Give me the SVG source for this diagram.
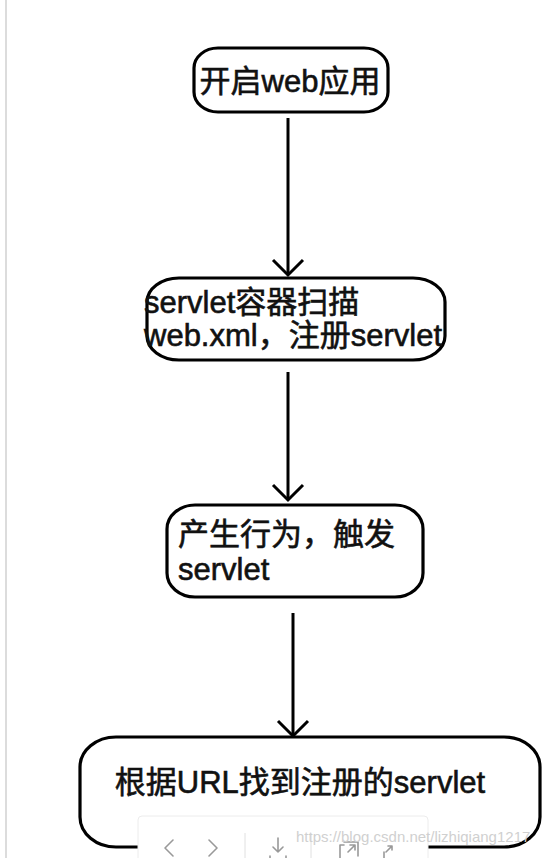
<svg xmlns="http://www.w3.org/2000/svg" width="554" height="858" viewBox="0 0 554 858">
<style>
.box{fill:#fff;stroke:#000;stroke-width:3.2}
.lbl{font-family:"Liberation Sans","Noto Sans CJK SC",sans-serif;font-size:31px;fill:#111;stroke:#111;stroke-width:0.6}
.edge{stroke:#000;stroke-width:3;fill:none}
.icon{stroke:#999;stroke-width:1.6;fill:none;stroke-linecap:round;stroke-linejoin:round}
</style>
<defs>
<marker id="vhead" markerUnits="userSpaceOnUse" markerWidth="40" markerHeight="40" refX="20" refY="20" orient="auto">
<path d="M5,5 L20,20 L5,35" stroke="#000" stroke-width="3" fill="none"/>
</marker>
</defs>
<rect width="554" height="858" fill="#fff"/>
<rect x="5" y="0" width="2" height="858" fill="#dcdcdc"/>

<g id="connectors">
<line class="edge" x1="288" y1="118" x2="288" y2="275" marker-end="url(#vhead)"/>
<line class="edge" x1="288" y1="372" x2="288" y2="500" marker-end="url(#vhead)"/>
<line class="edge" x1="293" y1="613" x2="293" y2="736" marker-end="url(#vhead)"/>
</g>

<g id="n1">
<rect class="box" x="194" y="48" width="194" height="64" rx="24" ry="20"/>
<text class="lbl" x="290" y="92" text-anchor="middle" font-size="31" stroke-width="1">开启web应用</text>
</g>

<g id="n2">
<rect class="box" x="147" y="278" width="298" height="82" rx="32" ry="24"/>
<text class="lbl" x="144" y="313">servlet容器扫描</text>
<text class="lbl" x="144" y="346">web.xml，注册servlet</text>
</g>

<g id="n3">
<rect class="box" x="167" y="505" width="256" height="92" rx="28" ry="24"/>
<text class="lbl" x="178" y="545">产生行为，触发</text>
<text class="lbl" x="178" y="580">servlet</text>
</g>

<g id="n4">
<rect class="box" x="80" y="737" width="460" height="110" rx="36" ry="30"/>
<text class="lbl" x="300" y="793" text-anchor="middle" font-size="30.5">根据URL找到注册的servlet</text>
</g>

<g id="toolbar">
<rect x="138" y="816" width="290" height="50" rx="4" fill="#fff" stroke="#ececec" stroke-width="1"/>
<path class="icon" d="M173,840 L165,848 L173,856"/>
<path class="icon" d="M209,840 L217,848 L209,856" stroke="#c8c8c8"/>
<line x1="245" y1="833" x2="245" y2="858" stroke="#e0e0e0" stroke-width="1"/>
<path class="icon" d="M278,838 L278,852 M273,847 L278,852 L283,847 M270,856 L270,858 M286,856 L286,858"/>
<line x1="311" y1="833" x2="311" y2="858" stroke="#e0e0e0" stroke-width="1"/>
<path class="icon" d="M340,845 L340,858 M340,845 L344,845 M344,842 L358,842 L358,856 M348,852 L355,845 M350,845 L355,845 L355,850" stroke="#888"/>
<path class="icon" d="M386,852 L392,846 M392,846 L392,850 M392,846 L388,846 M384,852 L384,858" stroke="#888"/>
</g>

<text x="296" y="842" font-family="Liberation Sans, sans-serif" font-size="15" fill="#d0d0d0">https://blog.csdn.net/lizhiqiang1217</text>
</svg>
